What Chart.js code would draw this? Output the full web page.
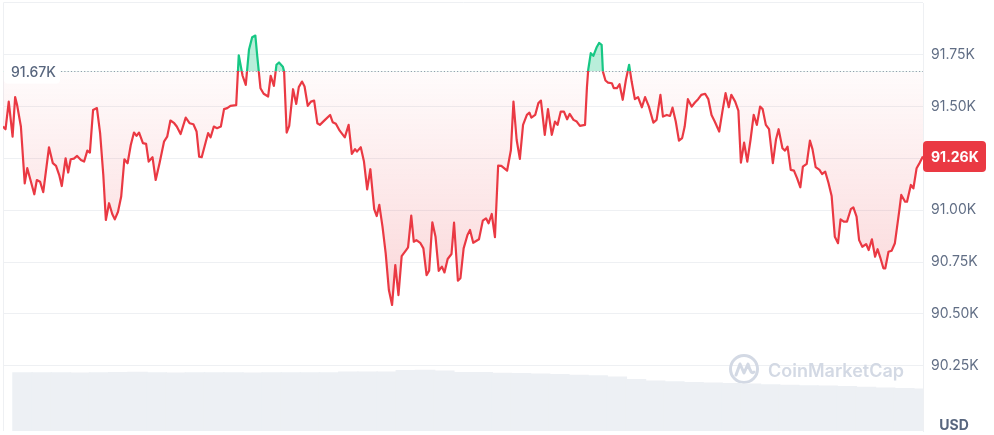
<!DOCTYPE html>
<html>
<head>
<meta charset="utf-8">
<script src="https://cdn.jsdelivr.net/npm/chart.js@4"></script>
<style>
  html, body { margin: 0; padding: 0; background: #fff; }
  canvas { display: block; }
</style>
</head>
<body>
<canvas id="chart-price" width="994" height="435"></canvas>
<script>
// minutes since start of the 24h window
const times = [
  0, 4, 9, 15, 19, 22, 28, 34, 38, 43,
  49, 53, 58, 63, 72, 78, 83, 88, 92, 98,
  102, 106, 111, 116, 122, 127, 132, 136, 141, 147,
  152, 157, 161, 166, 171, 175, 180, 185, 190, 195,
  200, 205, 209, 213, 219, 224, 228, 234, 239, 245,
  252, 257, 262, 268, 272, 278, 286, 292, 298, 303,
  307, 311, 317, 321, 325, 330, 335, 341, 346, 351,
  356, 365, 369, 375, 380, 385, 390, 395, 398, 403,
  408, 415, 419, 424, 428, 432, 438, 440, 444, 448,
  454, 459, 463, 468, 472, 477, 482, 487, 492, 496,
  504, 512, 516, 521, 527, 535, 541, 546, 551, 554,
  560, 565, 570, 575, 581, 585, 589, 594, 599, 604,
  609, 614, 619, 624, 631, 634, 639, 643, 647, 653,
  658, 663, 667, 672, 677, 682, 687, 691, 696, 702,
  706, 712, 716, 721, 727, 731, 736, 745, 751, 756,
  760, 765, 770, 775, 780, 789, 795, 799, 804, 809,
  814, 820, 824, 827, 833, 838, 842, 848, 853, 859,
  864, 868, 873, 878, 883, 887, 893, 898, 903, 911,
  914, 916, 920, 924, 929, 933, 937, 939, 943, 947,
  953, 956, 961, 965, 970, 975, 980, 984, 989, 994,
  1000, 1005, 1011, 1018, 1023, 1029, 1033, 1039, 1044, 1048,
  1053, 1058, 1063, 1067, 1072, 1078, 1083, 1088, 1093, 1099,
  1104, 1109, 1114, 1121, 1126, 1131, 1136, 1140, 1146, 1151,
  1155, 1160, 1165, 1170, 1175, 1180, 1185, 1189, 1194, 1199,
  1205, 1210, 1214, 1220, 1224, 1228, 1233, 1238, 1243, 1248,
  1252, 1258, 1263, 1267, 1272, 1278, 1282, 1287, 1292, 1297,
  1302, 1307, 1311, 1316, 1321, 1327, 1331, 1336, 1340, 1345,
  1351, 1355, 1360, 1365, 1369, 1373, 1378, 1381, 1386, 1391,
  1396, 1403, 1406, 1412, 1415, 1421, 1425, 1430, 1435, 1440
];

// price in USD
const prices = [
  91404, 91391, 91524, 91355, 91546, 91509, 91404, 91130, 91203, 91146,
  91077, 91146, 91138, 91087, 91304, 91227, 91214, 91170, 91117, 91251,
  91182, 91246, 91249, 91262, 91243, 91235, 91288, 91278, 91484, 91493,
  91372, 91170, 90953, 91034, 90982, 90956, 90993, 91066, 91246, 91227,
  91315, 91375, 91359, 91375, 91324, 91320, 91235, 91256, 91146, 91227,
  91331, 91355, 91433, 91420, 91404, 91368, 91447, 91420, 91415, 91380,
  91259, 91256, 91326, 91372, 91352, 91404, 91396, 91404, 91488, 91493,
  91504, 91507, 91748, 91649, 91605, 91774, 91835, 91843, 91742, 91589,
  91562, 91549, 91649, 91600, 91702, 91713, 91693, 91669, 91375, 91407,
  91584, 91513, 91594, 91621, 91597, 91504, 91524, 91529, 91420, 91412,
  91436, 91460, 91425, 91417, 91384, 91352, 91412, 91272, 91295, 91283,
  91304, 91235, 91101, 91198, 91005, 90972, 91026, 90921, 90792, 90615,
  90543, 90736, 90591, 90779, 90808, 90821, 90974, 90848, 90856, 90843,
  90816, 90687, 90708, 90942, 90872, 90708, 90728, 90700, 90765, 90789,
  90940, 90660, 90672, 90816, 90881, 90905, 90843, 90860, 90950, 90961,
  90937, 90982, 90870, 91215, 91214, 91191, 91291, 91524, 91339, 91248,
  91412, 91460, 91471, 91447, 91460, 91517, 91529, 91364, 91488, 91364,
  91428, 91412, 91476, 91476, 91439, 91465, 91436, 91428, 91407, 91412,
  91594, 91678, 91758, 91745, 91785, 91807, 91798, 91669, 91626, 91616,
  91613, 91589, 91589, 91608, 91533, 91629, 91702, 91621, 91536, 91546,
  91497, 91546, 91500, 91423, 91436, 91557, 91452, 91460, 91455, 91495,
  91428, 91336, 91348, 91404, 91536, 91500, 91520, 91536, 91557, 91562,
  91536, 91460, 91428, 91380, 91476, 91565, 91497, 91557, 91524, 91481,
  91230, 91326, 91235, 91339, 91460, 91412, 91500, 91488, 91412, 91391,
  91227, 91343, 91391, 91299, 91288, 91307, 91195, 91191, 91154, 91111,
  91210, 91224, 91336, 91295, 91208, 91195, 91175, 91186, 91133, 91069,
  90872, 90841, 90956, 90945, 90945, 91005, 91014, 90969, 90856, 90824,
  90837, 90808, 90860, 90776, 90812, 90773, 90720, 90720, 90800, 90805,
  90841, 91001, 91074, 91041, 91041, 91122, 91106, 91203, 91230, 91260
];

// 24h volume per half hour, in billions
const volumes = [
  4.09, 4.09, 4.10, 4.08, 4.09, 4.12, 4.13, 4.09, 4.08, 4.09,
  4.10, 4.09, 4.08, 4.09, 4.10, 4.09, 4.10, 4.14, 4.15, 4.14,
  4.25, 4.27, 4.22, 4.12, 4.11, 4.06, 4.04, 4.00, 3.97, 3.92,
  3.88, 3.80, 3.62, 3.52, 3.46, 3.42, 3.38, 3.34, 3.30, 3.25,
  3.22, 3.18, 3.16, 3.13, 3.08, 3.03, 2.99, 2.95
];
const volumeSlots = volumes.map((v, i) => i);

const yTicks = [90250, 90500, 90750, 91000, 91250, 91500, 91750];
const basePrice = 91670;
const lastPrice = 91260;

const red = "#ea3943";
const green = "#16c784";
const gridColor = "#eef0f3";
const kLabel = (v) => (v / 1000).toFixed(2) + "K";

const extras = {
  id: "cmcExtras",
  beforeDatasetsDraw(chart) {
    const { ctx, chartArea } = chart;
    ctx.save();
    // left + top border
    ctx.strokeStyle = gridColor;
    ctx.lineWidth = 1;
    ctx.beginPath();
    ctx.moveTo(chartArea.left + 0.5, chartArea.bottom);
    ctx.lineTo(chartArea.left + 0.5, chartArea.top - 0.5);
    ctx.lineTo(chartArea.right, chartArea.top - 0.5);
    ctx.stroke();

    // watermark
    const cx = chartArea.right - 179;
    const cy = chartArea.bottom - 62;
    ctx.strokeStyle = "#d3d9e4";
    ctx.lineWidth = 3;
    ctx.lineCap = "round";
    ctx.lineJoin = "round";
    ctx.beginPath();
    ctx.arc(cx, cy, 13.5, 0, Math.PI * 2);
    ctx.stroke();
    ctx.beginPath();
    ctx.moveTo(cx - 8, cy + 6);
    ctx.lineTo(cx - 4, cy - 5);
    ctx.lineTo(cx, cy + 4);
    ctx.lineTo(cx + 4, cy - 5);
    ctx.quadraticCurveTo(cx + 7, cy + 6, cx + 10, cy + 3);
    ctx.stroke();
    ctx.fillStyle = "#d3d9e4";
    ctx.font = "600 18px Inter";
    ctx.textAlign = "left";
    ctx.textBaseline = "middle";
    ctx.fillText("CoinMarketCap", cx + 24, cy + 3);
    ctx.restore();
  },
  afterDatasetsDraw(chart) {
    const { ctx, chartArea } = chart;
    const y = chart.scales.y;
    const by = y.getPixelForValue(basePrice);
    ctx.save();
    // dotted baseline
    const dy = Math.round(by) + 0.5;
    ctx.strokeStyle = "#939cac";
    ctx.lineWidth = 1.2;
    ctx.setLineDash([1.2, 2.1]);
    ctx.beginPath();
    ctx.moveTo(chartArea.left + 58, dy);
    ctx.lineTo(chartArea.right, dy);
    ctx.stroke();
    ctx.setLineDash([]);

    // baseline label
    ctx.fillStyle = "#ffffff";
    ctx.beginPath();
    ctx.roundRect(chartArea.left + 1, by - 11, 56, 23, 4);
    ctx.fill();
    ctx.fillStyle = "#58667e";
    ctx.font = "500 14px Inter";
    ctx.textAlign = "left";
    ctx.textBaseline = "middle";
    ctx.fillText(kLabel(basePrice), chartArea.left + 8, by + 1);
    ctx.restore();
  },
  afterDraw(chart) {
    const { ctx, chartArea } = chart;
    const y = chart.scales.y;
    const ly = y.getPixelForValue(lastPrice);
    ctx.save();
    ctx.fillStyle = red;
    ctx.beginPath();
    ctx.roundRect(chartArea.right, ly - 15.5, 63, 31, 4);
    ctx.fill();
    ctx.fillStyle = "#ffffff";
    ctx.font = "700 14px Inter";
    ctx.textAlign = "left";
    ctx.textBaseline = "middle";
    ctx.fillText(kLabel(lastPrice), chartArea.right + 8, ly + 1);

    ctx.fillStyle = "#58667e";
    ctx.font = "700 14px Inter";
    ctx.textAlign = "center";
    ctx.fillText("USD", chartArea.right + 31, chartArea.bottom - 5);
    ctx.restore();
  },
};

const chart = new Chart(document.getElementById("chart-price"), {
  data: {
    datasets: [
      {
        type: "line",
        label: "Price",
        data: prices.map((p, i) => ({ x: times[i], y: p })),
        xAxisID: "x",
        yAxisID: "y",
        borderColor: red,
        borderWidth: 2.2,
        borderJoinStyle: "round",
        pointRadius: 0,
        tension: 0,
        fill: {
          target: { value: basePrice },
          above: "rgba(22, 199, 132, 0.3)",
          below: "rgba(234, 57, 67, 0.1)",
        },
        order: 1,
      },
      {
        type: "bar",
        label: "Volume",
        data: volumes,
        xAxisID: "xv",
        yAxisID: "yv",
        backgroundColor: "#edf0f4",
        barThickness: 20,
        order: 2,
      },
    ],
  },
  options: {
    responsive: false,
    animation: false,
    layout: { padding: { top: 3, bottom: 4, left: 3, right: 0 } },
    plugins: {
      legend: { display: false },
      tooltip: { enabled: false },
    },
    scales: {
      x: { type: "linear", min: 0, max: 1440, display: false },
      xv: { type: "category", labels: volumeSlots, display: false, offset: true },
      y: {
        type: "linear",
        position: "right",
        min: 89935,
        max: 92000,
        grid: { color: gridColor, drawTicks: false },
        border: { display: true, color: gridColor },
        ticks: {
          padding: 8,
          color: "#616e85",
          font: { family: "Inter", size: 14 },
          callback: (v) => kLabel(v),
        },
        afterBuildTicks: (scale) => {
          scale.ticks = yTicks.map((v) => ({ value: v }));
        },
        afterFit: (scale) => {
          scale.width = 71;
          scale.paddingTop = 0;
          scale.paddingBottom = 0;
        },
      },
      yv: { type: "linear", min: 0, max: 30, display: false },
    },
  },
  plugins: [extras],
});

// gradients need the laid-out chart area
function applyColours(chart) {
  const { ctx, chartArea } = chart;
  const by = chart.scales.y.getPixelForValue(basePrice);
  const split = (by - chartArea.top) / (chartArea.bottom - chartArea.top);

  const stroke = ctx.createLinearGradient(0, chartArea.top, 0, chartArea.bottom);
  stroke.addColorStop(0, green);
  stroke.addColorStop(split, green);
  stroke.addColorStop(split, red);
  stroke.addColorStop(1, red);

  const below = ctx.createLinearGradient(0, by, 0, chartArea.bottom);
  below.addColorStop(0, "rgba(234, 57, 67, 0.02)");
  below.addColorStop(1, "rgba(234, 57, 67, 0.3)");

  const ds = chart.data.datasets[0];
  ds.borderColor = stroke;
  ds.fill.below = below;
}

applyColours(chart);
chart.update("none");
</script>
</body>
</html>
